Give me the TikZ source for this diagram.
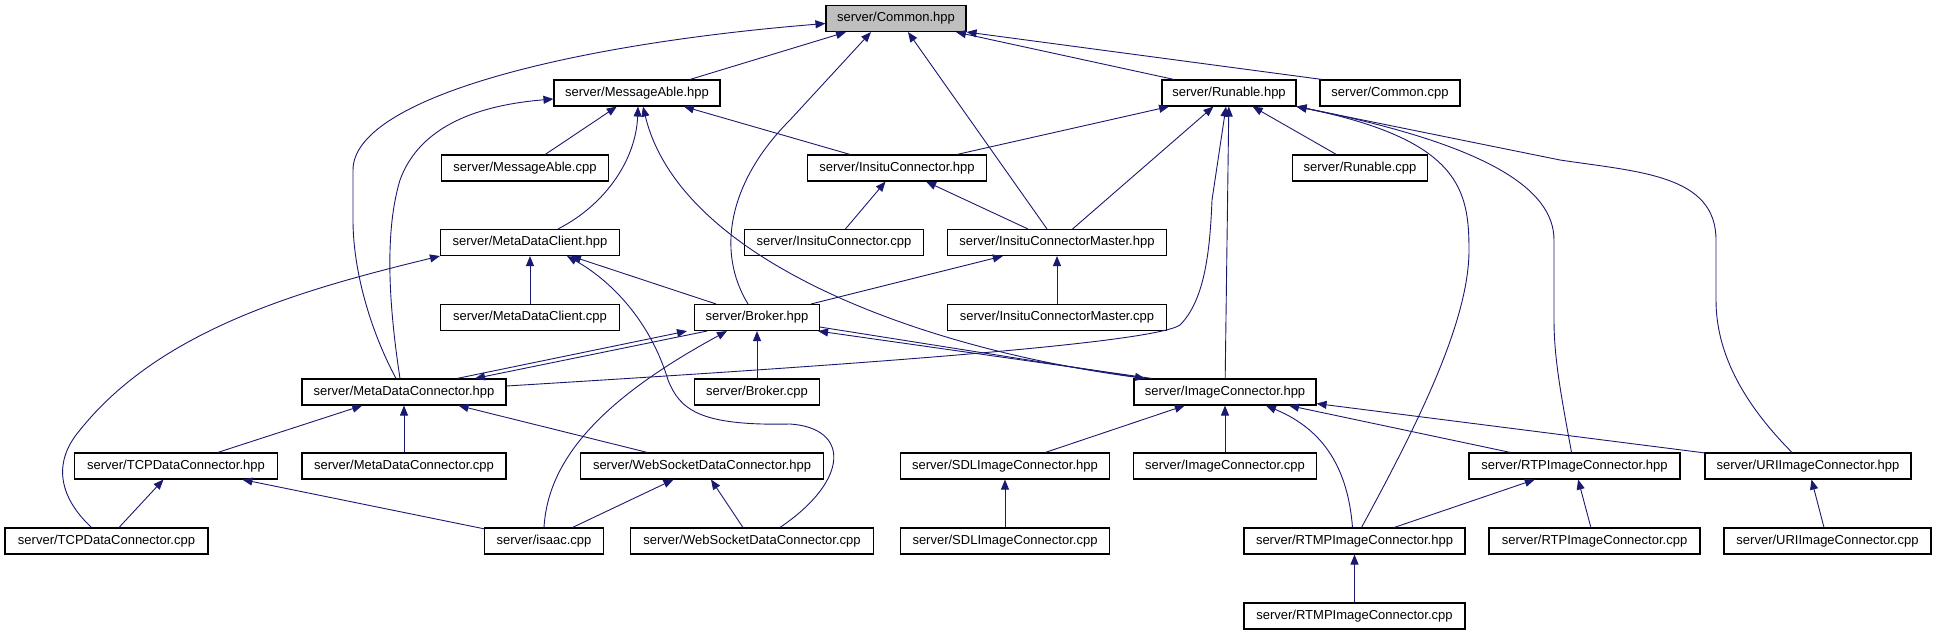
\documentclass[tikz,border=0pt]{standalone}
\usepackage{fontspec}
\setmainfont{Liberation Sans}
\usetikzlibrary{arrows.meta}
\definecolor{doxAzulNoche}{HTML}{191970}
\definecolor{doxGrisRaiz}{HTML}{BFBFBF}

\begin{document}
\begin{tikzpicture}[
        x=1pt,
        y=-1pt,
        font=\fontsize{13}{15}\selectfont,
        file/.style={draw=black, line width=1.1pt, fill=white, minimum height=26pt, inner sep=0pt},
        root/.style={file, fill=doxGrisRaiz},
        dep/.style={-{Triangle[length=10pt,width=8pt]}, doxAzulNoche, line width=0.9pt}
    ]
        \useasboundingbox (0,0) rectangle (1936,635);

        % Cabeceras superiores
        \node[root, minimum width=140] (commonH) at (896,18.5) {server/Common.hpp};
        \node[file, minimum width=166] (msgH) at (637,93) {server/MessageAble.hpp};
        \node[file, minimum width=134] (runH) at (1229,93) {server/Runable.hpp};
        \node[file, minimum width=140] (commonC) at (1390,93) {server/Common.cpp};

        \node[file, minimum width=167] (msgC) at (525,168) {server/MessageAble.cpp};
        \node[file, minimum width=179] (insH) at (897,168) {server/InsituConnector.hpp};
        \node[file, minimum width=135] (runC) at (1360,168) {server/Runable.cpp};

        \node[file, minimum width=179] (mdClH) at (530,242.5) {server/MetaDataClient.hpp};
        \node[file, minimum width=179] (insC) at (834,242.5) {server/InsituConnector.cpp};
        \node[file, minimum width=219] (insMH) at (1057,242.5) {server/InsituConnectorMaster.hpp};

        \node[file, minimum width=179] (mdClC) at (530,317.5) {server/MetaDataClient.cpp};
        \node[file, minimum width=125] (brkH) at (757,317.5) {server/Broker.hpp};
        \node[file, minimum width=219] (insMC) at (1057,317.5) {server/InsituConnectorMaster.cpp};

        % Conectores
        \node[file, minimum width=204] (mdCoH) at (404,392) {server/MetaDataConnector.hpp};
        \node[file, minimum width=125] (brkC) at (757,392) {server/Broker.cpp};
        \node[file, minimum width=182] (imgH) at (1225,392) {server/ImageConnector.hpp};

        \node[file, minimum width=203] (tcpH) at (176,466) {server/TCPDataConnector.hpp};
        \node[file, minimum width=204] (mdCoC) at (404,466) {server/MetaDataConnector.cpp};
        \node[file, minimum width=243] (wsH) at (702,466) {server/WebSocketDataConnector.hpp};
        \node[file, minimum width=209] (sdlH) at (1005,466) {server/SDLImageConnector.hpp};
        \node[file, minimum width=183] (imgC) at (1225,466) {server/ImageConnector.cpp};
        \node[file, minimum width=211] (rtpH) at (1574.5,466) {server/RTPImageConnector.hpp};
        \node[file, minimum width=206] (uriH) at (1808,466) {server/URIImageConnector.hpp};

        \node[file, minimum width=203] (tcpC) at (106.5,541) {server/TCPDataConnector.cpp};
        \node[file, minimum width=119] (isaacC) at (544,541) {server/isaac.cpp};
        \node[file, minimum width=243] (wsC) at (752,541) {server/WebSocketDataConnector.cpp};
        \node[file, minimum width=209] (sdlC) at (1005,541) {server/SDLImageConnector.cpp};
        \node[file, minimum width=221] (rtmpH) at (1354.5,541) {server/RTMPImageConnector.hpp};
        \node[file, minimum width=211] (rtpC) at (1594.5,541) {server/RTPImageConnector.cpp};
        \node[file, minimum width=207] (uriC) at (1827.5,541) {server/URIImageConnector.cpp};

        \node[file, minimum width=221] (rtmpC) at (1354.5,616) {server/RTMPImageConnector.cpp};

        % Inclusiones hacia Common.hpp
        \draw[dep] ([xshift=53pt]msgH.north) -- ([xshift=-50pt]commonH.south);
        \draw[dep] ([xshift=-55pt]runH.north) -- ([xshift=60pt]commonH.south);
        \draw[dep] ([xshift=-68pt]commonC.north) -- (commonH.south east);
        \draw[dep] ([xshift=-10pt]insMH.north) -- ([xshift=12pt]commonH.south);
        \draw[dep] ([xshift=-8pt]mdCoH.north) .. controls (370,330) and (353,270) .. (353,220) -- (353,170)
            .. controls (353,100) and (560,45) .. ([yshift=-5pt]commonH.west);
        \draw[dep] ([xshift=-9pt]brkH.north) .. controls (715,250) and (730,180) .. (790,120) -- ([xshift=-25pt]commonH.south);

        % Inclusiones hacia MessageAble.hpp
        \draw[dep] (msgC) -- (msgH);
        \draw[dep] (insH) -- (msgH);
        \draw[dep] ([xshift=28pt]mdClH.north) .. controls (605,205) and (636,160) .. ([xshift=1pt]msgH.south);
        \draw[dep] ([xshift=-4pt]mdCoH.north) .. controls (388,300) and (385,230) .. (400,180)
            .. controls (420,125) and (480,105) .. ([yshift=-6pt]msgH.west);
        \draw[dep] ([xshift=-80pt]imgH.north) .. controls (920,350) and (680,260) .. ([xshift=6pt]msgH.south);

        % Inclusiones hacia Runable.hpp
        \draw[dep] (insH) -- (runH);
        \draw[dep] (insMH) -- (runH);
        \draw[dep] (runC) -- (runH);
        \draw[dep] (imgH) -- (runH);
        \draw[dep] ([yshift=6pt]mdCoH.east) .. controls (800,368) and (1150,345) .. (1180,325)
            .. controls (1205,300) and (1210,250) .. (1212,200) -- ([xshift=-3pt]runH.south);
        \draw[dep] ([xshift=7pt]rtmpH.north) .. controls (1420,420) and (1469,320) .. (1469,250)
            .. controls (1469,190) and (1460,140) .. (runH.south east);
        \draw[dep] ([xshift=-3pt]rtpH.north) .. controls (1562,400) and (1554,360) .. (1554,320) -- (1554,240)
            .. controls (1554,190) and (1490,145) .. (runH.south east);
        \draw[dep] ([xshift=-16pt]uriH.north) .. controls (1740,400) and (1716,350) .. (1716,300) -- (1716,240)
            .. controls (1716,175) and (1640,172) .. (1560,160) -- (runH.south east);

        % Nivel intermedio
        \draw[dep] (insC) -- (insH);
        \draw[dep] (insMH) -- (insH);
        \draw[dep] (mdClC) -- (mdClH);
        \draw[dep] (brkH) -- (mdClH);
        \draw[dep] ([xshift=-15pt]tcpC.north) .. controls (62,500) and (50,465) .. (80,430)
            .. controls (160,330) and (300,290) .. (mdClH.south west);
        \draw[dep] ([xshift=28pt]wsC.north) .. controls (850,480) and (850,428) .. (790,424)
            .. controls (700,426) and (680,410) .. (668,380)
            .. controls (650,320) and (610,280) .. ([xshift=37pt]mdClH.south);
        \draw[dep] (brkH) -- (insMH);
        \draw[dep] (insMC) -- (insMH);

        % Broker en ambos sentidos
        \draw[dep] ([xshift=53pt]mdCoH.north) -- ([xshift=-70pt]brkH.south);
        \draw[dep] ([xshift=-50pt]brkH.south) -- ([xshift=71pt]mdCoH.north);
        \draw[dep] ([xshift=-73pt]imgH.north) -- ([xshift=-2pt]brkH.south east);
        \draw[dep] ([yshift=4pt]brkH.south east) -- ([xshift=-80pt]imgH.north);
        \draw[dep] (brkC) -- (brkH);
        \draw[dep] (isaacC.north) .. controls (548,460) and (600,400) .. ([xshift=-30pt]brkH.south);

        % Conectores de datos e imagen
        \draw[dep] (tcpH) -- (mdCoH);
        \draw[dep] (mdCoC) -- (mdCoH);
        \draw[dep] (wsH) -- (mdCoH);
        \draw[dep] (sdlH) -- (imgH);
        \draw[dep] (imgC) -- (imgH);
        \draw[dep] (rtpH) -- (imgH);
        \draw[dep] (uriH) -- (imgH);
        \draw[dep] ([xshift=-2pt]rtmpH.north) .. controls (1348,470) and (1325,430) .. ([xshift=41pt]imgH.south);

        % Ficheros fuente
        \draw[dep] (tcpC) -- (tcpH);
        \draw[dep] (isaacC) -- (tcpH);
        \draw[dep] (isaacC) -- (wsH);
        \draw[dep] (wsC) -- (wsH);
        \draw[dep] (sdlC) -- (sdlH);
        \draw[dep] (rtmpH) -- (rtpH);
        \draw[dep] (rtpC) -- (rtpH);
        \draw[dep] (uriC) -- (uriH);
        \draw[dep] (rtmpC) -- (rtmpH);
    \end{tikzpicture}
\end{document}
